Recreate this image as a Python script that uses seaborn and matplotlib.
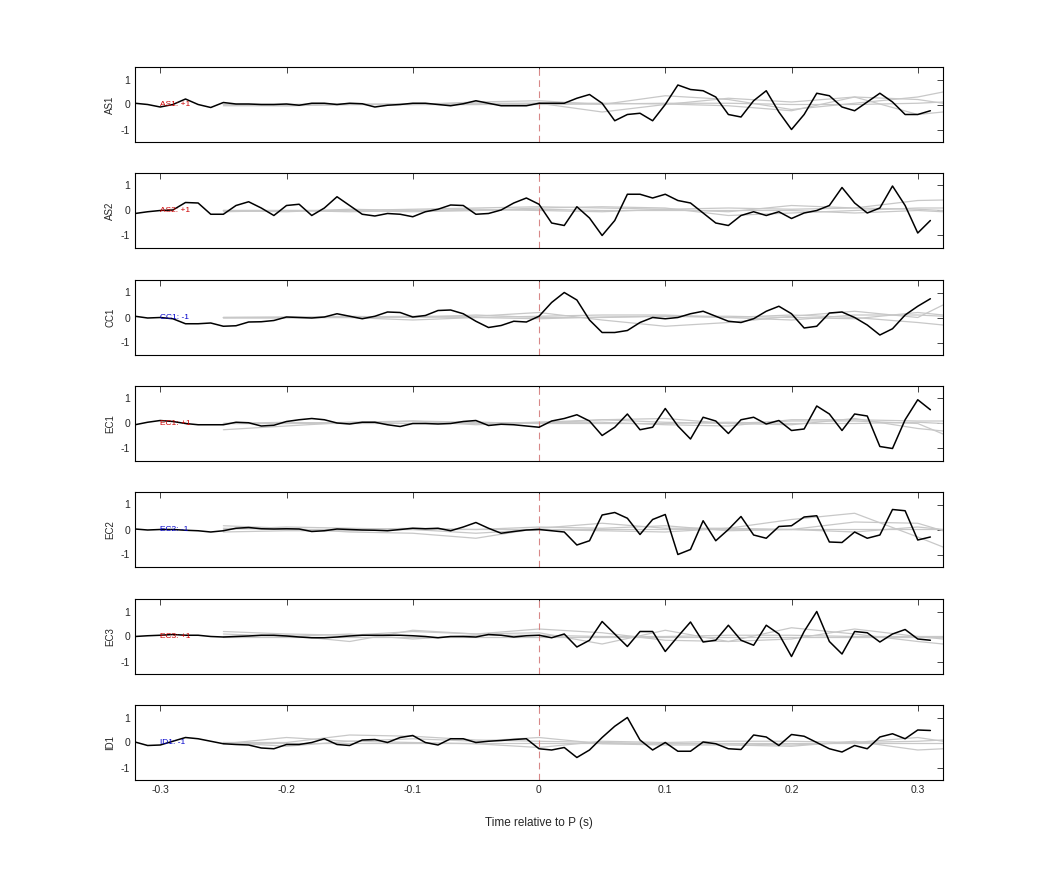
import numpy as np
import pandas as pd
import matplotlib
matplotlib.use("Agg")
import matplotlib.pyplot as plt
import seaborn as sns

sns.set_style("white")
plt.rcParams['font.family'] = ['Liberation Sans', 'DejaVu Sans']
plt.rcParams['axes.unicode_minus'] = False

# time axis of the black traces (s)
t = np.round(np.arange(-0.32, 0.315, 0.01), 2)
grey_t = [-0.25, -0.2, -0.15, -0.1, -0.05, 0, 0.05, 0.1, 0.15, 0.2, 0.25, 0.3, 0.32]

channels = ["AS1", "AS2", "CC1", "EC1", "EC2", "EC3", "ID1"]
signs = ["+1", "+1", "-1", "+1", "-1", "+1", "-1"]

AS1 = [0.05, 0, -0.1, 0, 0.22, 0, -0.12, 0.08, 0.02, 0.02, 0, 0, 0.02, -0.03, 0.05, 0.05,
       0, 0.05, 0.03, -0.1, -0.03, 0, 0.05, 0.05, 0, -0.05, 0.03, 0.15, 0.05, -0.05, -0.05, -0.05,
       0.05, 0.05, 0.05, 0.25, 0.4, 0.05, -0.65, -0.4, -0.35, -0.65, 0, 0.78, 0.6, 0.55, 0.3, -0.4,
       -0.5, 0.15, 0.55, -0.3, -1.0, -0.4, 0.45, 0.35, -0.1, -0.25, 0.1, 0.45, 0.1, -0.4, -0.4, -0.25]
AS2 = [-0.12, -0.05, 0, 0.02, 0.32, 0.3, -0.15, -0.15, 0.2, 0.35, 0.1, -0.2, 0.2, 0.25, -0.2, 0.1,
       0.55, 0.2, -0.15, -0.22, -0.12, -0.15, -0.25, -0.05, 0.05, 0.22, 0.2, -0.15, -0.12, 0.02, 0.3, 0.5,
       0.25, -0.5, -0.6, 0.15, -0.3, -1.0, -0.4, 0.65, 0.65, 0.5, 0.65, 0.4, 0.3, -0.1, -0.5, -0.6,
       -0.2, -0.05, -0.2, -0.05, -0.32, -0.1, 0, 0.2, 0.92, 0.3, -0.1, 0.1, 0.98, 0.2, -0.9, -0.4]
CC1 = [0.05, -0.02, 0, -0.05, -0.25, -0.25, -0.22, -0.35, -0.33, -0.18, -0.17, -0.12, 0.02, 0, -0.02, 0.02,
       0.15, 0.05, -0.05, 0.05, 0.22, 0.2, 0.02, 0.08, 0.28, 0.3, 0.15, -0.15, -0.4, -0.32, -0.15, -0.18,
       0.05, 0.6, 1.0, 0.7, -0.1, -0.6, -0.6, -0.52, -0.2, 0, -0.05, 0, 0.15, 0.25, 0.05, -0.15,
       -0.2, -0.05, 0.25, 0.45, 0.15, -0.42, -0.35, 0.18, 0.22, 0, -0.3, -0.7, -0.45, 0.1, 0.45, 0.75]
EC1 = [-0.05, 0.05, 0.12, 0.08, 0, -0.05, -0.05, -0.05, 0.05, 0.03, -0.1, -0.07, 0.08, 0.15, 0.2, 0.15,
       0.02, -0.02, 0.05, 0.05, -0.05, -0.12, 0, 0, -0.02, 0, 0.08, 0.12, -0.08, -0.03, -0.05, -0.1,
       -0.15, 0.1, 0.2, 0.35, 0.1, -0.48, -0.15, 0.38, -0.25, -0.15, 0.6, -0.1, -0.62, 0.25, 0.1, -0.4,
       0.15, 0.25, -0.02, 0.12, -0.28, -0.22, 0.7, 0.38, -0.28, 0.38, 0.3, -0.92, -1.0, 0.15, 0.95, 0.55]
EC2 = [0.02, -0.02, 0, 0, -0.03, -0.05, -0.1, -0.05, 0.05, 0.08, 0.03, 0.02, 0.03, 0.02, -0.08, -0.05,
       0.02, 0, -0.02, -0.03, -0.05, 0, 0.05, 0.03, 0.05, -0.05, 0.1, 0.28, 0.05, -0.15, -0.08, -0.02,
       0, -0.05, -0.1, -0.62, -0.45, 0.58, 0.68, 0.45, -0.2, 0.4, 0.6, -1.0, -0.8, 0.35, -0.45, 0,
       0.52, -0.22, -0.35, 0.12, 0.15, 0.5, 0.55, -0.5, -0.52, -0.1, -0.35, -0.22, 0.8, 0.75, -0.42, -0.3]
EC3 = [0, 0.03, 0.05, 0.08, 0.05, 0.05, 0, -0.02, 0, 0.02, 0.05, 0.05, 0.02, -0.02, -0.05, -0.05,
       -0.02, 0.02, 0.05, 0.05, 0.05, 0.05, 0.03, 0, -0.05, 0, 0, -0.02, 0.08, 0.05, -0.02, 0.03,
       0.05, -0.05, 0.1, -0.42, -0.15, 0.6, 0.1, -0.4, 0.2, 0.2, -0.6, 0, 0.58, -0.22, -0.15, 0.45,
       -0.15, -0.35, 0.45, 0.1, -0.8, 0.2, 1.0, -0.2, -0.7, 0.2, 0.15, -0.22, 0.1, 0.28, -0.1, -0.15]
ID1 = [0.02, -0.12, -0.1, 0.05, 0.2, 0.15, 0.05, -0.05, -0.08, -0.1, -0.22, -0.25, -0.08, -0.08, 0, 0.15,
       -0.08, -0.12, 0.1, 0.12, 0, 0.2, 0.28, 0, -0.1, 0.15, 0.15, 0, 0.05, 0.08, 0.12, 0.15,
       -0.25, -0.3, -0.2, -0.6, -0.3, 0.2, 0.65, 1.0, 0.1, -0.3, 0, -0.35, -0.35, 0.02, -0.05, -0.25,
       -0.28, 0.3, 0.22, -0.12, 0.32, 0.25, 0, -0.25, -0.38, -0.12, -0.25, 0.22, 0.35, 0.15, 0.5, 0.48]
black = [AS1, AS2, CC1, EC1, EC2, EC3, ID1]

# grey reference traces, sampled at grey_t
grey = [
    [[0, 0, 0, 0, 0.1, 0.15, 0, 0.35, 0.2, -0.2, 0.05, 0.3, 0.5],
     [0, -0.05, 0, 0, 0, 0.05, -0.3, 0, 0.25, 0.1, 0.3, -0.4, -0.3],
     [0, 0, 0.02, 0, 0, 0, 0.02, 0.05, 0.05, 0, 0, 0.05, 0.1],
     [-0.05, -0.05, 0, 0.02, 0.05, 0.05, 0.05, 0.02, -0.05, -0.25, 0.3, 0.2, 0.05]],
    [[0, 0, 0, 0.05, 0.1, 0.15, 0.1, 0.05, -0.05, 0.2, 0.1, 0.4, 0.42],
     [-0.05, 0, -0.05, 0, 0, 0.1, 0.15, 0.1, -0.2, -0.1, 0, 0.1, 0.1],
     [0, -0.05, 0.05, 0, 0.05, 0, -0.05, 0.05, 0.1, 0.05, 0.1, 0.05, 0],
     [0, 0, 0, -0.05, 0, 0.05, 0, 0, 0, 0, -0.1, 0, -0.05]],
    [[0, 0, 0.02, 0.05, 0.05, 0.2, -0.1, -0.35, -0.2, 0.05, 0.25, 0, 0.5],
     [0, 0.02, 0, -0.1, 0, 0.05, 0.1, 0.1, 0, 0.1, 0, -0.2, -0.3],
     [0, 0, 0.05, 0, 0.1, 0, 0, 0.05, 0, -0.1, 0.1, 0.1, 0.05],
     [-0.02, -0.02, 0, 0.02, 0, -0.05, 0.02, 0.05, 0.05, 0, -0.05, 0.2, 0.1]],
    [[-0.25, -0.1, 0.05, 0.1, 0.05, 0, 0.15, 0.2, 0, 0.1, 0.1, 0, -0.42],
     [0, 0, 0.05, 0, 0, 0.05, 0.05, -0.05, -0.1, 0.15, 0.15, 0.1, 0.1],
     [0, 0.05, 0, 0.1, -0.05, 0.05, 0.15, 0.05, 0, -0.05, 0.2, -0.2, -0.3],
     [0, 0, 0, 0, 0.05, 0, 0, 0, 0.05, 0, 0, 0.05, 0]],
    [[0.15, 0.05, -0.1, -0.15, -0.35, 0.05, 0.25, 0.05, 0.05, 0.4, 0.65, -0.3, -0.7],
     [0, 0.1, 0.05, 0, 0, 0.1, 0.05, 0.15, -0.05, 0, 0.3, 0.25, -0.05],
     [-0.1, -0.05, -0.05, 0, -0.15, 0, -0.05, -0.1, 0.05, 0, -0.1, 0.1, 0],
     [0.05, 0, 0, 0.05, 0, 0, 0, 0, 0, 0, 0, 0, 0]],
    [[0.2, 0.1, 0.05, 0.2, 0.1, 0.3, 0.15, -0.15, -0.2, 0.35, 0.1, -0.2, -0.3],
     [0, 0.05, -0.2, 0.25, 0.1, 0.15, -0.3, 0.25, -0.2, -0.1, 0.3, 0, -0.1],
     [0.1, 0, 0.1, -0.1, 0.05, 0.05, 0, 0, 0.05, 0.05, 0, 0, 0],
     [0, 0, 0, 0, 0, 0, 0, 0, 0, 0, 0, 0, 0]],
    [[-0.05, 0.2, 0.05, 0.15, 0.05, 0.2, -0.05, -0.1, -0.1, -0.15, 0.05, -0.3, -0.25],
     [0, 0, 0.3, 0.25, 0.1, 0.05, 0, -0.05, -0.05, -0.1, 0, 0.2, 0.05],
     [0, -0.15, 0.05, 0, -0.05, -0.2, 0.05, 0, 0.05, 0.05, 0, 0.05, 0.1],
     [0, 0, 0, 0, 0, 0, 0, 0, 0, 0, 0, 0, 0]],
]

fig = plt.figure(figsize=(10.42, 8.75), dpi=100)
left, width = 135 / 1042, 808 / 1042
tops = [67, 173, 280, 386, 492, 599, 705]
for i, ch in enumerate(channels):
    ax = fig.add_axes([left, 1 - (tops[i] + 75) / 875, width, 75 / 875])
    for g in grey[i]:
        sns.lineplot(x=grey_t, y=g, ax=ax, color="#c8c8c8", lw=0.9)
    ax.axvline(0, color="#d88888", lw=0.8, ls=(0, (6, 4)))
    sns.lineplot(x=t, y=black[i], ax=ax, color="black", lw=1.1)
    col = "#cc0000" if signs[i] == "+1" else "#0000cc"
    ax.text(-0.3, 0, f"{ch}: {signs[i]}", color=col, fontsize=6, va="center")
    ax.set_xlim(-0.32, 0.32)
    ax.set_ylim(-1.5, 1.5)
    ax.set_yticks([-1, 0, 1])
    ax.set_xticks([-0.3, -0.2, -0.1, 0, 0.1, 0.2, 0.3])
    ax.tick_params(direction="in", top=True, right=True, labelsize=7.5, length=4, width=0.6)
    ax.set_ylabel(ch, fontsize=7)
    for s in ax.spines.values():
        s.set_color("black")
        s.set_linewidth(0.8)
    if i < len(channels) - 1:
        ax.set_xticklabels([])
    else:
        ax.set_xticklabels(["-0.3", "-0.2", "-0.1", "0", "0.1", "0.2", "0.3"])
        ax.set_xlabel("Time relative to P (s)", fontsize=8.5, labelpad=16)

fig.savefig("out.png", dpi=100)
